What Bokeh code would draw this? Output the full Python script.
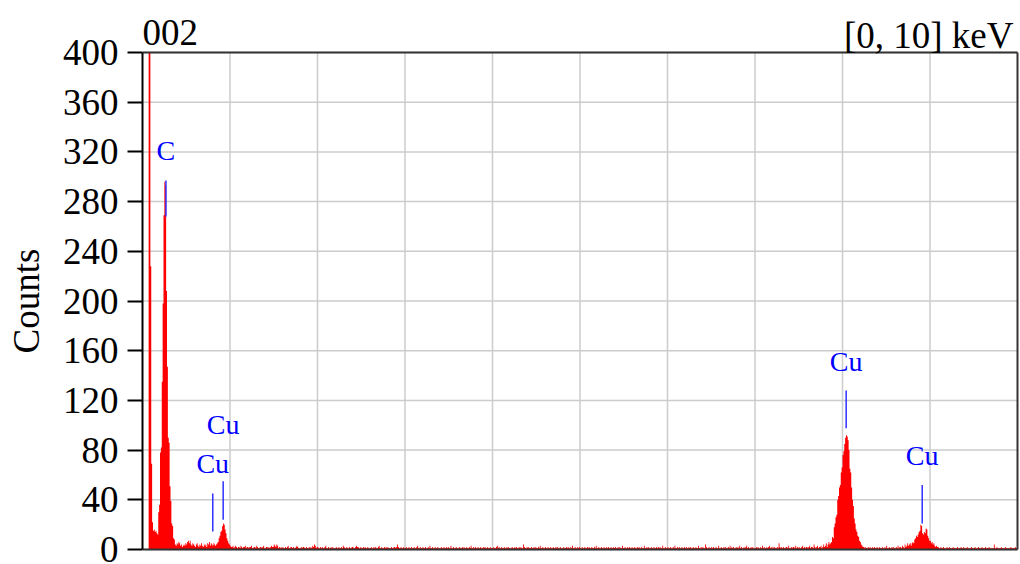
from bokeh.plotting import figure
from bokeh.models import FixedTicker, ColumnDataSource, Range1d
from bokeh.core.properties import value
from bokeh.embed import file_html
from bokeh.resources import INLINE

# ---------------- data ----------------
channel_width_kev = 0.01
n_channels = 1000

# spectrum segments: (start channel, counts)
seg_zero_and_c = [0, 0, 0, 0, 0, 0, 0,
                  900, 1500, 228, 69, 22, 15, 16, 14, 15, 13, 12, 30, 36, 78, 82, 135, 198, 269, 296, 293,
                  208, 147, 90, 86, 51, 39, 21, 19, 9, 8]
seg_low = [4, 3, 5, 4, 6, 5, 3, 4, 2, 3, 4, 3, 5, 4, 6, 7, 5, 7, 4, 3,
           5, 4, 3, 2, 4, 5, 3, 2, 4, 3, 5, 3, 2, 4, 3, 4, 2, 5, 4, 6,
           3, 5, 4, 3, 5, 4, 3, 4]
seg_cu_l = [5, 6, 9, 11, 14, 15, 19, 21, 20, 16, 13, 9, 7, 5, 4]
seg_mid = [
    3, 2, 2, 3, 1, 2, 3, 2, 1, 2, 2, 1, 3, 2, 1, 2, 2, 3, 1, 2,
    2, 1, 2, 2, 3, 1, 1, 2, 2, 1, 3, 2, 1, 1, 2, 2, 1, 2, 3, 1,
    1, 2, 2, 1, 2, 1, 2, 3, 2, 2, 4, 3, 2, 4, 3, 1, 2, 1, 2, 1,
    2, 1, 1, 2, 1, 2, 3, 1, 1, 2, 2, 1, 2, 1, 1, 2, 3, 2, 1, 1,
    1, 2, 1, 2, 2, 1, 1, 2, 1, 1, 2, 1, 2, 1, 3, 2, 4, 3, 1, 2,
    2, 1, 1, 2, 1, 2, 1, 1, 2, 3, 1, 1, 2, 1, 1, 2, 1, 2, 1, 1,
    1, 2, 1, 1, 2, 1, 1, 2, 1, 3, 2, 1, 1, 2, 1, 1, 2, 1, 1, 2,
    2, 1, 1, 2, 3, 2, 2, 1, 1, 2, 1, 1, 2, 1, 2, 1, 1, 2, 1, 1,
    1, 2, 1, 1, 2, 1, 2, 1, 1, 2, 3, 1, 1, 2, 1, 1, 2, 1, 2, 1,
    2, 1, 1, 1, 2, 1, 1, 2, 2, 1, 2, 4, 2, 1, 1, 2, 1, 1, 2, 1,
    1, 2, 1, 1, 2, 1, 1, 2, 1, 1, 2, 1, 1, 2, 3, 1, 1, 2, 1, 1,
    2, 1, 1, 2, 1, 1, 2, 1, 3, 1, 1, 2, 1, 1, 2, 1, 1, 2, 1, 1,
    1, 2, 1, 1, 2, 1, 1, 2, 1, 2, 1, 1, 3, 1, 1, 2, 1, 1, 2, 1,
    1, 1, 2, 1, 1, 2, 1, 2, 1, 1, 2, 1, 1, 2, 1, 3, 1, 1, 2, 1,
    2, 1, 1, 2, 1, 1, 2, 1, 1, 2, 1, 2, 1, 1, 2, 1, 1, 2, 1, 1,
    1, 2, 1, 1, 2, 3, 1, 2, 1, 1, 2, 1, 1, 2, 1, 1, 2, 1, 2, 1,
    1, 1, 2, 1, 1, 2, 1, 2, 1, 1, 2, 1, 2, 1, 1, 4, 2, 1, 1, 2,
    1, 2, 1, 1, 2, 1, 1, 2, 1, 2, 1, 1, 2, 1, 3, 1, 1, 2, 1, 1,
    2, 1, 1, 2, 1, 1, 2, 1, 1, 2, 1, 1, 2, 1, 2, 1, 1, 2, 1, 1,
    1, 2, 1, 1, 2, 1, 2, 1, 1, 2, 1, 3, 1, 1, 2, 1, 1, 2, 1, 2,
    1, 1, 2, 1, 1, 2, 1, 1, 2, 1, 2, 1, 1, 2, 1, 1, 2, 1, 3, 1,
    1, 2, 1, 1, 2, 1, 1, 2, 1, 1, 2, 1, 2, 1, 1, 2, 1, 1, 2, 1,
    2, 1, 1, 2, 1, 2, 1, 1, 3, 1, 1, 2, 1, 1, 2, 1, 2, 1, 1, 2,
    1, 1, 2, 1, 1, 2, 1, 2, 1, 1, 2, 1, 1, 3, 1, 1, 2, 1, 2, 1,
    1, 2, 1, 1, 2, 1, 1, 2, 1, 2, 1, 2, 1, 1, 3, 1, 1, 2, 1, 1,
    2, 1, 1, 2, 1, 1, 2, 1, 3, 1, 1, 2, 1, 2, 1, 1, 2, 1, 1, 2,
    1, 2, 1, 1, 2, 1, 2, 1, 1, 2, 1, 1, 2, 1, 1, 3, 1, 1, 2, 1,
    2, 1, 1, 4, 2, 1, 1, 2, 1, 1, 2, 1, 2, 1, 1, 2, 1, 1, 3, 1,
    1, 2, 1, 1, 2, 1, 2, 1, 1, 2, 1, 3, 1, 2, 1, 2, 1, 1, 2, 1,
    2, 1, 3, 1, 2, 1, 1, 2, 1, 2, 3, 1, 2, 1, 1, 2, 1, 2, 1, 1,
    1, 2, 1, 2, 1, 1, 2, 1, 3, 1, 2, 1, 1, 2, 1, 2, 3, 1, 2, 1,
    2, 1, 2, 1, 1, 2, 1, 5, 2, 1, 2, 1, 2, 1, 1, 2, 2, 1, 3, 1,
    1, 2, 1, 2, 2, 1, 3, 1, 2, 1, 2, 1, 1, 2, 3, 1, 2, 1, 2, 2,
    1, 2, 3, 1, 2, 2, 1, 4, 2, 1, 2, 3, 1, 2, 2, 3, 1, 2, 4, 2,
    3, 5, 2, 4, 6, 4]
seg_cu_ka = [5, 6, 10, 9, 18, 21, 26, 28, 40, 43, 50, 52, 62, 66, 76, 79, 85, 90, 92, 91,
             88, 80, 65, 62, 50, 40, 35, 25, 21, 16, 14, 11, 10, 7, 6, 4, 3, 2]
seg_between_k = [2, 1, 2, 1, 1, 2, 1, 2, 1, 1, 2, 1, 2, 1, 1, 2, 1, 1, 2, 1,
                 1, 2, 1, 1, 2, 1, 3, 1, 1, 2, 1, 1, 2, 1, 2, 1, 1, 2, 1, 3,
                 1, 2, 2, 1, 3, 2, 1, 4, 2, 3, 5, 3]
seg_cu_kb = [4, 5, 3, 5, 6, 5, 8, 9, 11, 10, 12, 14, 15, 20, 19, 13, 12, 14, 13, 17,
             16, 11, 9, 7, 7, 5, 6, 4, 5, 3, 2, 3, 2]
seg_high = [2, 1, 1, 2, 1, 1, 2, 1, 1, 1, 2, 1, 1, 2, 1, 1, 1, 2, 1, 1,
            1, 1, 2, 1, 1, 1, 2, 1, 1, 2, 1, 1, 1, 2, 1, 1, 1, 1, 2, 1,
            1, 1, 2, 1, 1, 1, 2, 1, 1, 1, 2, 1, 1, 1, 2, 1, 1, 1, 2, 1,
            1, 1, 1, 1, 4, 1, 1, 2, 1, 1, 1, 1, 2, 1, 1, 1, 1, 2, 1, 1,
            1, 1, 1, 2, 1, 1, 1, 1, 2, 1, 1]

segments = [(0, seg_zero_and_c), (37, seg_low), (85, seg_cu_l), (100, seg_mid),
            (786, seg_cu_ka), (824, seg_between_k), (876, seg_cu_kb), (909, seg_high)]

# element markers
marker_names = ["C", "Cu", "Cu", "Cu", "Cu"]
marker_energy = [0.268, 0.803, 0.922, 8.042, 8.911]
marker_low = [268, 14.5, 24, 97.5, 21]
marker_high = [297, 45, 55, 128, 52]
marker_label_y = [321, 69, 100.5, 151, 76]

x_min, x_max = 0, 10
y_min, y_max = 0, 400
y_ticks = list(range(0, 401, 40))
x_grid = list(range(1, 10))
spectrum_name = "002"
range_text = "[0, 10] keV"
y_title = "Counts"

# ---------------- build ----------------
counts = [0] * n_channels
for start, seg in segments:
    for i, c in enumerate(seg):
        if start + i < n_channels:
            counts[start + i] = c

# step outline of the histogram (each channel is a flat top), shown clipped at the axis top
xs, ys = [], []
for i, c in enumerate(counts):
    xs += [i * channel_width_kev, (i + 1) * channel_width_kev]
    ys += [min(c, y_max), min(c, y_max)]

FONT = "Liberation Serif"
W, H = 1020, 564
left, right, top, bottom = 142, 3, 52, 15   # frame box of the axes in pixels
px_per_x = (W - left - right) / (x_max - x_min)
px_per_y = (H - top - bottom) / (y_max - y_min)

p = figure(width=W, height=H, output_backend="svg", toolbar_location=None,
           x_range=Range1d(x_min, x_max + right / px_per_x),
           y_range=Range1d(y_min - bottom / px_per_y, y_max + top / px_per_y),
           min_border_left=left, min_border_right=0, min_border_top=0, min_border_bottom=0)
p.background_fill_color = "white"
p.border_fill_color = "white"
p.outline_line_color = None
p.xaxis.visible = False
p.xgrid.visible = False
p.ygrid.visible = False

ya = p.yaxis[0]
ya.ticker = FixedTicker(ticks=y_ticks)
ya.bounds = (y_min, y_max)
ya.axis_line_color = "black"
ya.axis_line_width = 2
ya.major_tick_line_color = "black"
ya.major_tick_line_width = 2
ya.major_tick_out = 15
ya.major_tick_in = 0
ya.minor_tick_line_color = None
ya.major_label_standoff = 9
ya.major_label_text_font = FONT
ya.major_label_text_font_size = "37px"
ya.major_label_text_color = "black"
# trailing no-break spaces keep the rotated title centred on the 0..400 span rather than the full canvas
ya.axis_label = y_title + "\u00a0" * 4
ya.axis_label_text_font = FONT
ya.axis_label_text_font_size = "37px"
ya.axis_label_text_font_style = "normal"
ya.axis_label_text_color = "black"
ya.axis_label_standoff = 13

GRID = "#cccccc"
# grid lines inside the box
p.segment(x0=x_grid, y0=[y_min] * len(x_grid), x1=x_grid, y1=[y_max] * len(x_grid),
          line_color=GRID, line_width=1.5)
p.segment(x0=[x_min] * len(y_ticks), y0=y_ticks, x1=[x_max] * len(y_ticks), y1=y_ticks,
          line_color=GRID, line_width=1.5)

# spectrum
p.varea(x=xs, y1=[0] * len(ys), y2=ys, fill_color="red")

# box edges (top, right, bottom)
p.segment(x0=[x_min, x_max, x_min], y0=[y_max, y_min, y_min],
          x1=[x_max, x_max, x_max], y1=[y_max, y_max, y_min],
          line_color="#333333", line_width=2)

# element markers
p.segment(x0=marker_energy, y0=marker_low, x1=marker_energy, y1=marker_high,
          line_color="#3030ff", line_width=1.5)
p.text(x=marker_energy, y=marker_label_y, text=marker_names,
       text_font=value(FONT), text_font_size="28px", text_color="blue",
       text_align="center", text_baseline="alphabetic")

# header texts above the box
p.text(x=[x_min], y=[y_max], text=[spectrum_name], text_font=value(FONT),
       text_font_size="37px", text_color="black", text_align="left",
       text_baseline="alphabetic", y_offset=-20)
p.text(x=[x_max], y=[y_max], text=[range_text], text_font=value(FONT),
       text_font_size="37px", text_color="black", text_align="right",
       text_baseline="alphabetic", x_offset=-4, y_offset=-17)

open("out.html", "w").write(file_html(p, INLINE))
